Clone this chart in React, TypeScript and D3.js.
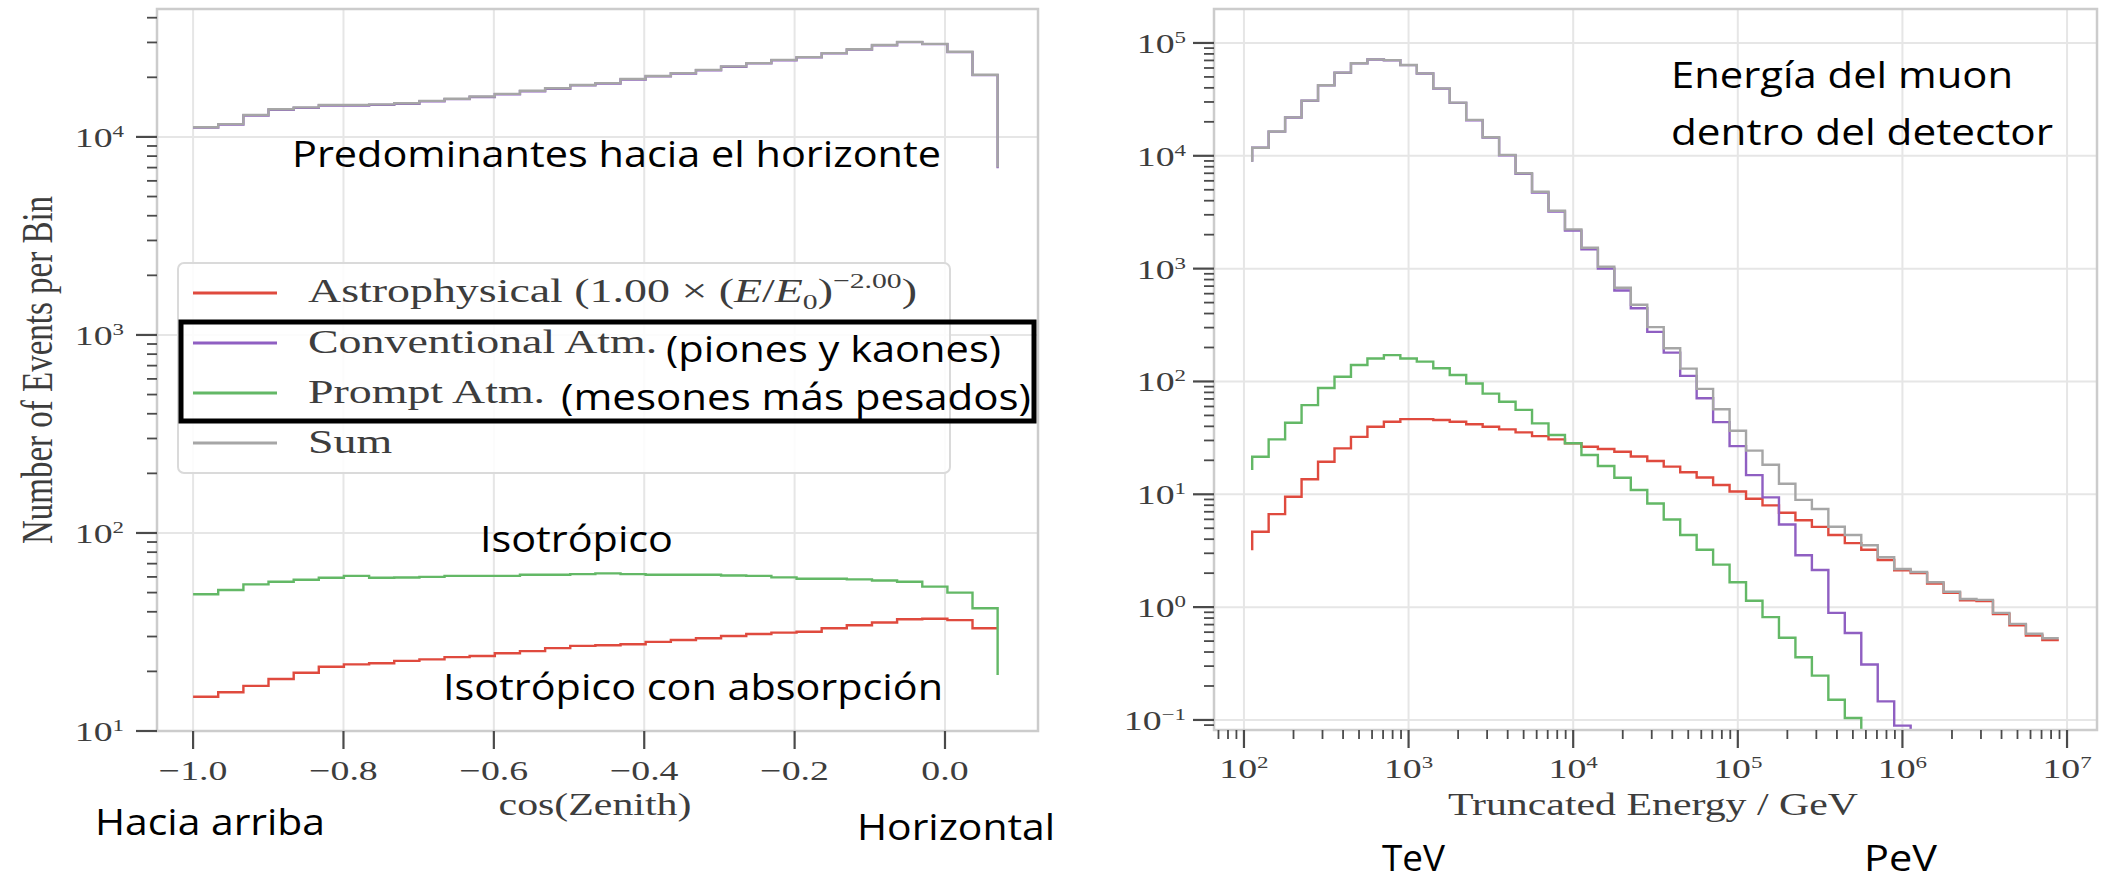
import React from "react";
import * as d3 from "d3";

// ---------- cos(zenith) histogram ----------
// 32 bins; each series has one value per bin plus a closing value at the last edge
const zenithEdges = [
  -1.0, -0.9666, -0.9331, -0.8997, -0.8662, -0.8328, -0.7994, -0.7659, -0.7325, -0.699, -0.6656,
  -0.6322, -0.5987, -0.5653, -0.5318, -0.4984, -0.465, -0.4315, -0.3981, -0.3646, -0.3312, -0.2978,
  -0.2643, -0.2309, -0.1974, -0.164, -0.1306, -0.0971, -0.0637, -0.0302, 0.0032, 0.0366, 0.07,
];
const zenAstro = [
  14.9, 15.7, 16.9, 18.3, 19.7, 21.1, 21.7, 22, 22.6, 23, 23.6, 23.9, 24.7, 25.3, 26.2, 26.9,
  27.1, 27.4, 28.2, 28.8, 29.4, 30.2, 30.9, 31.4, 31.7, 33, 34.2, 35.3, 36.7, 36.9, 36.3, 33, 33,
];
const zenConv = [
  11136, 11533, 12828, 13725, 14022, 14419, 14418, 14519, 14718, 15117, 15516, 15915, 16415, 17013,
  17512, 18211, 18610, 19510, 20210, 20910, 21709, 22609, 23508, 24409, 25210, 26408, 27608, 29007,
  30107, 29409, 26814, 20525, 6950,
];
const zenPrompt = [
  49, 51.5, 55, 56.7, 58, 59.4, 60.7, 59.4, 59.6, 60, 60.7, 60.7, 60.7, 61.5, 61.5, 62,
  62.5, 62, 61.5, 61.5, 61.5, 61, 60.7, 59.7, 58.7, 58.7, 58.3, 57.5, 56.7, 53.6, 50, 41.7, 19.2,
];
const zenSum = [
  11200, 11600, 12900, 13800, 14100, 14500, 14500, 14600, 14800, 15200, 15600, 16000, 16500, 17100,
  17600, 18300, 18700, 19600, 20300, 21000, 21800, 22700, 23600, 24500, 25300, 26500, 27700, 29100,
  30200, 29500, 26900, 20600, 7000,
];
const zenTicks = [-1.0, -0.8, -0.6, -0.4, -0.2, 0.0];

// ---------- truncated energy histogram ----------
// log10 of the bin edges; each series starts with an opening value, then one value per bin
const energyEdgeExp = [
  2.05, 2.15, 2.25, 2.35, 2.45, 2.55, 2.65, 2.75, 2.85, 2.95, 3.05, 3.15, 3.25, 3.35, 3.45, 3.55,
  3.65, 3.75, 3.85, 3.95, 4.05, 4.15, 4.25, 4.35, 4.45, 4.55, 4.65, 4.75, 4.85, 4.95, 5.05, 5.15,
  5.25, 5.35, 5.45, 5.55, 5.65, 5.75, 5.85, 5.95, 6.05, 6.15, 6.25, 6.35, 6.45, 6.55, 6.65, 6.75,
  6.85, 6.95,
];
const eAstro = [
  3.2, 4.66, 6.67, 9.5, 13.6, 19.4, 25.5, 32.3, 39.7, 43.9, 46.4, 46.4, 45.5, 43.9, 41.7, 39.7,
  37.6, 35.4, 32.8, 30.7, 28.3, 26.4, 25.2, 23.8, 21.6, 19.7, 17.6, 15.7, 14.1, 12.1, 10.6, 9.14,
  7.98, 6.86, 5.89, 5.14, 4.36, 3.69, 3.22, 2.62, 2.12, 2.0, 1.62, 1.34, 1.15, 1.13, 0.87, 0.69,
  0.56, 0.51,
];
const eConv = [
  8850, 11770, 16360, 21850, 30720, 42090, 54460, 65930, 71400, 70280, 63590, 53600, 39420, 29440,
  20660, 14480, 10090, 6910, 4720, 3200, 2170, 1480, 1000, 640, 446, 275, 180, 112, 71, 43.6, 26.7,
  14.8, 9.4, 5.4, 2.88, 2.13, 0.89, 0.59, 0.31, 0.146, 0.089, 0.05, 0.03,
];
const ePrompt = [
  16.4, 21.5, 30.7, 43, 61.7, 87.5, 110, 140, 160, 171, 160, 150, 131, 114, 96, 78, 66, 56, 42.5,
  33.5, 28.3, 22.3, 17.8, 14, 10.9, 8.28, 5.98, 4.36, 3.22, 2.38, 1.66, 1.14, 0.815, 0.535, 0.36,
  0.247, 0.151, 0.104, 0.065, 0.04,
];
const eSum = [
  8870, 11800, 16400, 21900, 30800, 42200, 54600, 66100, 71600, 70500, 63800, 53800, 39600, 29600,
  20800, 14600, 10200, 7000, 4800, 3260, 2230, 1530, 1040, 676, 478, 303, 197, 130, 86, 56.8, 36.6,
  24.4, 18.3, 12.4, 8.93, 7.4, 5.15, 4.36, 3.53, 2.77, 2.18, 2.05, 1.66, 1.37, 1.18, 1.16, 0.89,
  0.71, 0.58, 0.53,
];

const legendLabels = ["Astrophysical", "Conventional Atm.", "Prompt Atm.", "Sum"];

const W = 2102;
const H = 883;
const SERIF = "'Liberation Serif', 'DejaVu Serif', serif";
const SANS = "'Open Sans', 'Noto Sans', sans-serif";
const STRETCH = 1.35;
const INK = "#3d3d3d";
const GRID = "#e6e6e6";
const SPINE = "#cccccc";
const TICK = "#4a4a4a";
const C_ASTRO = "#df4a3e";
const C_CONV = "#8f5fc2";
const C_PROMPT = "#63b866";
const C_SUM = "#a6a6a6";
const LINE_W = 2.4;

// serif text, widened horizontally like the rest of the figure
function SText(props: {
  x: number;
  y: number;
  size: number;
  anchor?: "start" | "middle" | "end";
  rotate?: boolean;
  children: React.ReactNode;
}) {
  const { x, y, size, anchor = "start", rotate, children } = props;
  return (
    <g transform={`translate(${x},${y}) scale(${STRETCH},1)${rotate ? " rotate(-90)" : ""}`}>
      <text x={0} y={0} textAnchor={anchor} fontSize={size} fontFamily={SERIF} fill={INK}>
        {children}
      </text>
    </g>
  );
}

function Pow({ exp }: { exp: number }) {
  const s = exp < 0 ? `\u2212${Math.abs(exp)}` : `${exp}`;
  return (
    <>
      10
      <tspan dy={-10} fontSize={17}>
        {s}
      </tspan>
    </>
  );
}

// black annotation text, fitted to a given width
function Note(props: { x: number; y: number; w: number; children: string }) {
  return (
    <text
      x={props.x}
      y={props.y}
      fontFamily={SANS}
      fontSize={36}
      fill="#000"
      textLength={props.w}
      lengthAdjust="spacingAndGlyphs"
    >
      {props.children}
    </text>
  );
}

function isDecade(v: number) {
  const l = Math.log10(v);
  return Math.abs(l - Math.round(l)) < 1e-6;
}

export default function App() {
  // ----- scales -----
  const L = { x0: 157, x1: 1038, y0: 9, y1: 731 };
  const R = { x0: 1214, x1: 2097, y0: 9, y1: 730 };

  const xZen = d3.scaleLinear().domain([-1.048, 0.1237]).range([L.x0, L.x1]);
  const yZen = d3.scaleLog().domain([10, 10 ** 4.646]).range([L.y1, L.y0]);
  const xE = d3.scaleLog().domain([10 ** 1.818, 10 ** 7.182]).range([R.x0, R.x1]);
  const yE = d3.scaleLog().domain([10 ** -1.089, 10 ** 5.301]).range([R.y1, R.y0]);

  const energyEdges = energyEdgeExp.map((e) => 10 ** e);

  const zenLine = d3
    .line<number>()
    .x((_, i) => xZen(zenithEdges[i]))
    .y((d) => yZen(d))
    .curve(d3.curveStepAfter);
  const eLine = d3
    .line<number>()
    .x((_, i) => xE(energyEdges[i]))
    .y((d) => yE(d))
    .curve(d3.curveStepBefore);

  const yZenTicks = yZen.ticks();
  const yETicks = yE.ticks();
  const xETicks = xE.ticks();
  const yZenMajor = yZenTicks.filter(isDecade);
  const yEMajor = yETicks.filter(isDecade);
  const xEMajor = xETicks.filter(isDecade);

  const zenSeries = [
    { v: zenAstro, c: C_ASTRO },
    { v: zenConv, c: C_CONV },
    { v: zenPrompt, c: C_PROMPT },
    { v: zenSum, c: C_SUM },
  ];
  const eSeries = [
    { v: eAstro, c: C_ASTRO },
    { v: eConv, c: C_CONV },
    { v: ePrompt, c: C_PROMPT },
    { v: eSum, c: C_SUM },
  ];

  const legend = { x: 178, y: 263, w: 772, h: 210, rows: [293, 343, 393, 443] };
  const legendColors = [C_ASTRO, C_CONV, C_PROMPT, C_SUM];
  const LEG_FS = 34;

  return (
    <svg
      width={W}
      height={H}
      viewBox={`0 0 ${W} ${H}`}
      style={{ position: "absolute", left: 0, top: 0, background: "#fff" }}
    >
      <defs>
        <clipPath id="clipZen">
          <rect x={L.x0} y={L.y0} width={L.x1 - L.x0} height={L.y1 - L.y0} />
        </clipPath>
        <clipPath id="clipE">
          <rect x={R.x0} y={R.y0} width={R.x1 - R.x0} height={R.y1 - R.y0} />
        </clipPath>
      </defs>
      <rect x={0} y={0} width={W} height={H} fill="#fff" />

      {/* ================= left panel: cos(zenith) ================= */}
      <g>
        {zenTicks.map((t) => (
          <line key={`gx${t}`} x1={xZen(t)} x2={xZen(t)} y1={L.y0} y2={L.y1} stroke={GRID} strokeWidth={2} />
        ))}
        {yZenMajor.map((t) => (
          <line key={`gy${t}`} x1={L.x0} x2={L.x1} y1={yZen(t)} y2={yZen(t)} stroke={GRID} strokeWidth={2} />
        ))}

        <g clipPath="url(#clipZen)" fill="none">
          {zenSeries.map((s, i) => (
            <path key={i} d={zenLine(s.v) || ""} stroke={s.c} strokeWidth={LINE_W} strokeLinejoin="miter" />
          ))}
        </g>

        <rect x={L.x0} y={L.y0} width={L.x1 - L.x0} height={L.y1 - L.y0} fill="none" stroke={SPINE} strokeWidth={2.5} />

        {/* y ticks */}
        {yZenTicks.map((t) => {
          const major = isDecade(t);
          return (
            <line
              key={`ty${t}`}
              x1={L.x0 - (major ? 21 : 10)}
              x2={L.x0}
              y1={yZen(t)}
              y2={yZen(t)}
              stroke={TICK}
              strokeWidth={major ? 2.2 : 1.8}
            />
          );
        })}
        {yZenMajor.map((t) => (
          <SText key={`ly${t}`} x={124} y={yZen(t) + 10} size={28} anchor="end">
            <Pow exp={Math.round(Math.log10(t))} />
          </SText>
        ))}

        {/* x ticks */}
        {zenTicks.map((t) => (
          <line key={`tx${t}`} x1={xZen(t)} x2={xZen(t)} y1={L.y1} y2={L.y1 + 18} stroke={TICK} strokeWidth={2.2} />
        ))}
        {zenTicks.map((t) => (
          <SText key={`lx${t}`} x={xZen(t)} y={780} size={28} anchor="middle">
            {t < 0 ? `\u2212${Math.abs(t).toFixed(1)}` : t.toFixed(1)}
          </SText>
        ))}

        <SText x={595} y={815} size={31} anchor="middle">
          cos(Zenith)
        </SText>
        <SText x={52} y={370} size={33} anchor="middle" rotate>
          Number of Events per Bin
        </SText>

        {/* legend */}
        <rect
          x={legend.x}
          y={legend.y}
          width={legend.w}
          height={legend.h}
          rx={6}
          fill="#fff"
          fillOpacity={0.85}
          stroke="#dadada"
          strokeWidth={2}
        />
        {legend.rows.map((ry, i) => (
          <line key={`lg${i}`} x1={193} x2={277} y1={ry} y2={ry} stroke={legendColors[i]} strokeWidth={3} />
        ))}
        <SText x={308} y={legend.rows[0] + 9} size={LEG_FS}>
          {legendLabels[0]} (1.00 × (<tspan fontStyle="italic">E</tspan>/<tspan fontStyle="italic">E</tspan>
          <tspan dy={7} fontSize={22}>
            0
          </tspan>
          <tspan dy={-7}>)</tspan>
          <tspan dy={-14} fontSize={22}>
            −2.00
          </tspan>
          <tspan dy={14}>)</tspan>
        </SText>
        <SText x={308} y={legend.rows[1] + 10} size={LEG_FS}>
          {legendLabels[1]}
        </SText>
        <SText x={308} y={legend.rows[2] + 10} size={LEG_FS}>
          {legendLabels[2]}
        </SText>
        <SText x={308} y={legend.rows[3] + 10} size={LEG_FS}>
          {legendLabels[3]}
        </SText>
      </g>

      {/* ================= right panel: truncated energy ================= */}
      <g>
        {xEMajor.map((t) => (
          <line key={`gxe${t}`} x1={xE(t)} x2={xE(t)} y1={R.y0} y2={R.y1} stroke={GRID} strokeWidth={2} />
        ))}
        {yEMajor.map((t) => (
          <line key={`gye${t}`} x1={R.x0} x2={R.x1} y1={yE(t)} y2={yE(t)} stroke={GRID} strokeWidth={2} />
        ))}

        <g clipPath="url(#clipE)" fill="none">
          {eSeries.map((s, i) => (
            <path key={i} d={eLine(s.v) || ""} stroke={s.c} strokeWidth={LINE_W} strokeLinejoin="miter" />
          ))}
        </g>

        <rect x={R.x0} y={R.y0} width={R.x1 - R.x0} height={R.y1 - R.y0} fill="none" stroke={SPINE} strokeWidth={2.5} />

        {yETicks.map((t) => {
          const major = isDecade(t);
          return (
            <line
              key={`tye${t}`}
              x1={R.x0 - (major ? 21 : 10)}
              x2={R.x0}
              y1={yE(t)}
              y2={yE(t)}
              stroke={TICK}
              strokeWidth={major ? 2.2 : 1.8}
            />
          );
        })}
        {yEMajor.map((t) => (
          <SText key={`lye${t}`} x={1186} y={yE(t) + 10} size={28} anchor="end">
            <Pow exp={Math.round(Math.log10(t))} />
          </SText>
        ))}

        {xETicks.map((t) => {
          const major = isDecade(t);
          return (
            <line
              key={`txe${t}`}
              x1={xE(t)}
              x2={xE(t)}
              y1={R.y1}
              y2={R.y1 + (major ? 18 : 9)}
              stroke={TICK}
              strokeWidth={major ? 2.2 : 1.8}
            />
          );
        })}
        {xEMajor.map((t) => (
          <SText key={`lxe${t}`} x={xE(t)} y={778} size={28} anchor="middle">
            <Pow exp={Math.round(Math.log10(t))} />
          </SText>
        ))}

        <SText x={1653} y={815} size={31} anchor="middle">
          Truncated Energy / GeV
        </SText>
      </g>

      {/* ================= annotations ================= */}
      <Note x={292} y={167} w={649}>Predominantes hacia el horizonte</Note>
      <Note x={666} y={362} w={335}>(piones y kaones)</Note>
      <Note x={561} y={410} w={470}>(mesones más pesados)</Note>
      <rect x={181} y={322} width={853} height={99} fill="none" stroke="#000" strokeWidth={5} />
      <Note x={480} y={552} w={193}>Isotrópico</Note>
      <Note x={443} y={700} w={500}>Isotrópico con absorpción</Note>
      <Note x={95} y={835} w={230}>Hacia arriba</Note>
      <Note x={857} y={840} w={198}>Horizontal</Note>
      <Note x={1671} y={88} w={342}>Energía del muon</Note>
      <Note x={1671} y={145} w={382}>dentro del detector</Note>
      <Note x={1382} y={871} w={63}>TeV</Note>
      <Note x={1864} y={871} w={73}>PeV</Note>
    </svg>
  );
}
